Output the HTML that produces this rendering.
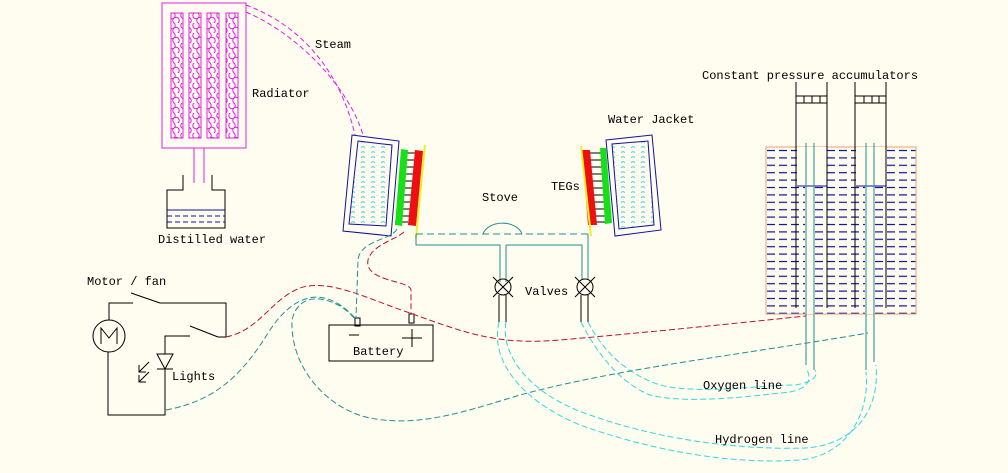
<!DOCTYPE html>
<html><head><meta charset="utf-8"><style>
html,body{margin:0;padding:0;background:#fffcf0;}
svg{display:block}
text{font-family:"Liberation Mono",monospace;font-size:12px;fill:#000}
</style></head><body>
<svg width="1008" height="473" viewBox="0 0 1008 473" xmlns="http://www.w3.org/2000/svg">
<defs>
<pattern id="hex" x="0" y="13" width="12" height="10" patternUnits="userSpaceOnUse">
<circle cx="4" cy="2.5" r="3.2" fill="none" stroke="#e020e0" stroke-width="1"/>
<circle cx="8" cy="7.5" r="3.2" fill="none" stroke="#e020e0" stroke-width="1"/>
</pattern>
<pattern id="wat" x="766" y="147" width="12" height="7.4" patternUnits="userSpaceOnUse">
<line x1="1" y1="3.5" x2="9" y2="3.5" stroke="#1010a0" stroke-width="1.2"/>
</pattern>
<pattern id="jw" width="10" height="5" patternUnits="userSpaceOnUse">
<path d="M1 2.5 q2 -1.5 4 0 M6 0 q2 -1 3 0" stroke="#30c8d8" stroke-width="0.9" fill="none"/>
</pattern>
</defs>

<!-- Radiator -->
<rect x="162" y="3" width="84" height="145" fill="none" stroke="#e020e0"/>
<g fill="url(#hex)" stroke="#e020e0">
<rect x="171" y="13" width="12" height="125"/>
<rect x="189" y="13" width="12" height="125"/>
<rect x="207" y="13" width="12" height="125"/>
<rect x="226" y="13" width="12" height="125"/>
</g>
<line x1="194" y1="148" x2="194" y2="183" stroke="#e020e0"/>
<line x1="204" y1="148" x2="204" y2="183" stroke="#e020e0"/>
<!-- steam pipes -->
<path d="M246 5 C300 25 340 70 355 135" fill="none" stroke="#e020e0" stroke-dasharray="5,3"/>
<path d="M246 12 C300 35 350 90 363 135" fill="none" stroke="#e020e0" stroke-dasharray="5,3"/>
<!-- distilled water container -->
<path d="M183 175 V190 H167 V228 H225 V190 H212 V175" fill="none" stroke="#000"/>
<line x1="167" y1="210" x2="225" y2="210" stroke="#1010a0"/>
<line x1="167" y1="216" x2="225" y2="216" stroke="#1010a0" stroke-dasharray="5,3"/>
<line x1="167" y1="222" x2="225" y2="222" stroke="#1010a0" stroke-dasharray="5,3"/>

<text x="158" y="243">Distilled water</text>
<text x="252" y="97">Radiator</text>
<text x="315" y="48">Steam</text>

<!-- Left jacket -->
<polygon points="352,135 399,141 391,236 343,231" fill="none" stroke="#1010a0"/>
<polygon points="358,141 392,145 386,226 349,224" fill="url(#jw)" stroke="#1010a0"/>
<g stroke="#000">
<line x1="402" y1="153" x2="415" y2="153"/><line x1="401" y1="160" x2="414" y2="160"/>
<line x1="401" y1="167" x2="414" y2="167"/><line x1="400" y1="174" x2="413" y2="174"/>
<line x1="399" y1="181" x2="412" y2="181"/><line x1="399" y1="188" x2="412" y2="188"/>
<line x1="398" y1="195" x2="411" y2="195"/><line x1="397" y1="202" x2="410" y2="202"/>
<line x1="397" y1="209" x2="410" y2="209"/><line x1="396" y1="216" x2="409" y2="216"/>
<line x1="395" y1="222" x2="408" y2="222"/>
</g>
<polygon points="401,149 408,150 402,226 395,225" fill="#18e018"/>
<polygon points="415,150 423,151 416,226 408,225" fill="#ee1010"/>
<line x1="425" y1="145" x2="416" y2="238" stroke="#f0f020" stroke-width="2"/>

<!-- Right jacket -->
<polygon points="606,140 652,135 661,230 615,236" fill="none" stroke="#1010a0"/>
<polygon points="612,144 648,141 654,225 619,229" fill="url(#jw)" stroke="#1010a0"/>
<g stroke="#000">
<line x1="589" y1="153" x2="601" y2="153"/><line x1="590" y1="160" x2="602" y2="160"/>
<line x1="590" y1="167" x2="602" y2="167"/><line x1="591" y1="174" x2="603" y2="174"/>
<line x1="592" y1="181" x2="604" y2="181"/><line x1="592" y1="188" x2="605" y2="188"/>
<line x1="593" y1="195" x2="606" y2="195"/><line x1="594" y1="202" x2="607" y2="202"/>
<line x1="595" y1="209" x2="608" y2="209"/><line x1="596" y1="216" x2="609" y2="216"/>
<line x1="596" y1="222" x2="610" y2="222"/>
</g>
<polygon points="582,150 590,150 597,225 588,225" fill="#ee1010"/>
<polygon points="600,148 606,148 612,223 605,224" fill="#18e018"/>
<line x1="581" y1="146" x2="591" y2="236" stroke="#f0f020" stroke-width="2"/>

<text x="608" y="123">Water Jacket</text>
<text x="551" y="190">TEGs</text>
<text x="482" y="201">Stove</text>

<!-- stove pipes -->
<g fill="none" stroke="#209090">
<path d="M416 234 H588" stroke-dasharray="7,4"/>
<path d="M416 234 V245 H500 V282"/>
<path d="M506 245 V282"/>
<path d="M506 245 H514"/>
<path d="M514 245 H582 V280"/>
<path d="M588 234 V280"/>
<path d="M483 234 A20 14 0 0 1 522 234"/>
</g>
<!-- valves -->
<g fill="none" stroke="#000">
<circle cx="503" cy="287" r="8"/><line x1="493" y1="277" x2="513" y2="297"/><line x1="513" y1="277" x2="493" y2="297"/>
<circle cx="585" cy="287" r="8"/><line x1="575" y1="277" x2="595" y2="297"/><line x1="595" y1="277" x2="575" y2="297"/>
<line x1="499" y1="295" x2="499" y2="322"/><line x1="506" y1="295" x2="506" y2="322"/>
<line x1="581" y1="295" x2="581" y2="322"/><line x1="588" y1="295" x2="588" y2="322"/>
</g>
<text x="525" y="295">Valves</text>

<!-- accumulators -->
<rect x="766" y="147" width="150" height="167" fill="url(#wat)" stroke="#e8a070"/>
<rect x="797" y="147" width="30" height="39" fill="#fffcf0"/>
<rect x="856" y="147" width="30" height="39" fill="#fffcf0"/>
<rect x="805" y="147" width="10" height="167" fill="#fffcf0"/>
<rect x="865" y="147" width="10" height="167" fill="#fffcf0"/>
<line x1="797" y1="186" x2="827" y2="186" stroke="#1010a0"/>
<line x1="856" y1="186" x2="886" y2="186" stroke="#1010a0"/>
<g stroke="#000" fill="none">
<line x1="796" y1="82" x2="796" y2="308"/><line x1="827" y1="82" x2="827" y2="308"/>
<line x1="855" y1="82" x2="855" y2="308"/><line x1="886" y1="82" x2="886" y2="308"/>
<rect x="796" y="96" width="31" height="7"/><rect x="855" y="96" width="31" height="7"/>
<line x1="804" y1="96" x2="804" y2="103"/><line x1="812" y1="96" x2="812" y2="103"/><line x1="820" y1="96" x2="820" y2="103"/>
<line x1="864" y1="96" x2="864" y2="103"/><line x1="872" y1="96" x2="872" y2="103"/><line x1="879" y1="96" x2="879" y2="103"/>
</g>
<g stroke="#209090">
<line x1="806" y1="143" x2="806" y2="365"/><line x1="814" y1="143" x2="814" y2="370"/>
<line x1="866" y1="143" x2="866" y2="370"/><line x1="874" y1="143" x2="874" y2="362"/>
</g>
<text x="702" y="79">Constant pressure accumulators</text>

<!-- gas lines -->
<g fill="none" stroke="#30d8e0" stroke-dasharray="6,3">
<path d="M499 322 C490 360 520 400 580 425 C650 450 730 465 800 460 C850 455 870 410 866 372"/>
<path d="M506 322 C500 355 530 395 590 415 C660 440 740 450 805 448 C855 445 880 410 876 365"/>
<path d="M581 322 C600 360 625 385 650 395 C690 405 760 395 790 392 C810 388 812 378 806 368"/>
<path d="M588 322 C605 355 630 375 660 385 C700 395 760 385 795 385 C815 382 818 375 815 370"/>
</g>
<text x="703" y="389">Oxygen line</text>
<text x="715" y="443">Hydrogen line</text>

<!-- electrical -->
<g fill="none" stroke="#000">
<circle cx="109" cy="336" r="16"/>
<path d="M101 344 V328 L109 338 L117 328 V344"/>
<path d="M109 320 V303 H133"/>
<line x1="131" y1="293" x2="160" y2="303"/>
<path d="M160 303 H226 V337 H218"/>
<line x1="190" y1="326" x2="218" y2="337"/>
<path d="M190 336 H165 V354"/>
<polygon points="157,354 173,354 165,369"/>
<line x1="157" y1="369" x2="173" y2="369"/>
<path d="M165 369 V415 H108 V352"/>
<path d="M149 362 L139 372 M139 365 V372 H146"/>
<path d="M149 372 L139 382 M139 375 V382 H146"/>
<rect x="329" y="325" width="104" height="36"/>
<rect x="355" y="318" width="5" height="8"/>
<rect x="409" y="314" width="5" height="9"/>
<line x1="349" y1="335" x2="359" y2="335"/>
<line x1="402" y1="338" x2="422" y2="338"/><line x1="412" y1="329" x2="412" y2="347"/>
</g>
<text x="87" y="285">Motor / fan</text>
<text x="172" y="380">Lights</text>
<text x="353" y="355">Battery</text>

<g fill="none" stroke-dasharray="6,3" stroke-width="1">
<path d="M226 337 C260 330 270 300 300 288 C330 278 370 300 410 313 C470 335 500 345 560 340 C640 333 720 325 806 316" stroke="#c01030"/>
<path d="M404 232 C395 240 372 245 368 260 C364 282 410 280 411 290 V314" stroke="#c01030"/>
<path d="M397 229 C392 240 360 240 358 260 L356 318" stroke="#209090"/>
<path d="M166 410 C220 400 245 370 270 330 C290 300 320 280 355 318" stroke="#209090"/>
<path d="M354 318 C340 300 300 285 292 320 C290 370 330 410 370 418 C420 428 470 410 520 395 C620 368 740 355 868 333" stroke="#209090"/>
</g>
</svg>
</body></html>
